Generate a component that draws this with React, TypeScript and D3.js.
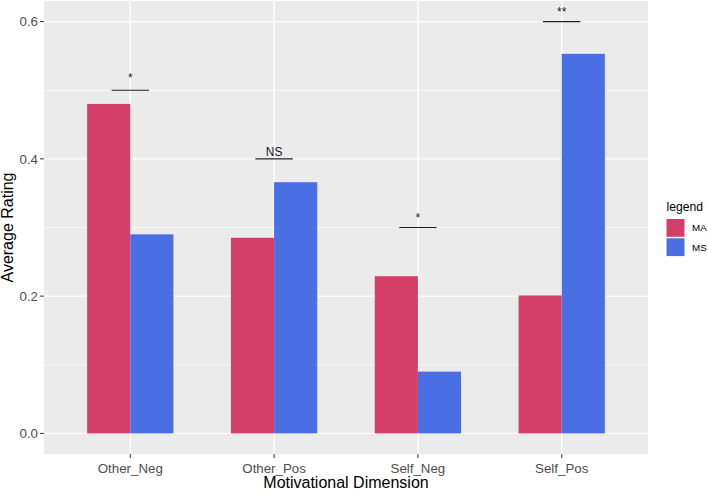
import React from "react";
import * as d3 from "d3";

const categories = ["Other_Neg", "Other_Pos", "Self_Neg", "Self_Pos"];
const groups = ["MA", "MS"];
const maValues = [0.48, 0.285, 0.229, 0.201];
const msValues = [0.29, 0.366, 0.09, 0.553];
const yTicks = [0.0, 0.2, 0.4, 0.6];
const yMinor = [0.1, 0.3, 0.5];
const sigLabels = ["*", "NS", "*", "**"];
const sigLineY = [0.5, 0.4, 0.3, 0.6];
const sigTextY = [0.512, 0.404, 0.308, 0.608];

const colors: Record<string, string> = { MA: "#D43F6A", MS: "#4A6FE3" };

const W = 708;
const H = 492;
const panel = { left: 44, right: 648, top: 1, bottom: 454 };

export default function App() {
  const x = d3
    .scaleLinear()
    .domain([0.4, 4.6])
    .range([panel.left, panel.right]);
  const y = d3
    .scaleLinear()
    .domain([-0.03, 0.63])
    .range([panel.bottom, panel.top]);
  const barW = 0.3;
  const font = "Arial, 'Liberation Sans', sans-serif";
  const series = [maValues, msValues];

  return (
    <svg
      width={W}
      height={H}
      style={{ position: "absolute", left: 0, top: 0, background: "#fff" }}
      fontFamily={font}
    >
      <rect
        x={panel.left}
        y={panel.top}
        width={panel.right - panel.left}
        height={panel.bottom - panel.top}
        fill="#EBEBEB"
      />
      {yMinor.map((v) => (
        <line key={"mn" + v} x1={panel.left} x2={panel.right} y1={y(v)} y2={y(v)} stroke="#fff" strokeWidth={0.7} />
      ))}
      {yTicks.map((v) => (
        <line key={"mj" + v} x1={panel.left} x2={panel.right} y1={y(v)} y2={y(v)} stroke="#fff" strokeWidth={1.4} />
      ))}
      {categories.map((c, i) => (
        <line key={"xg" + c} x1={x(i + 1)} x2={x(i + 1)} y1={panel.top} y2={panel.bottom} stroke="#fff" strokeWidth={1.4} />
      ))}
      {categories.map((c, i) =>
        series.map((vals, g) => {
          const x0 = i + 1 - barW + g * barW;
          return (
            <rect
              key={c + g}
              x={x(x0)}
              width={x(x0 + barW) - x(x0)}
              y={y(vals[i])}
              height={y(0) - y(vals[i])}
              fill={colors[groups[g]]}
            />
          );
        })
      )}
      {categories.map((c, i) => (
        <g key={"sig" + c}>
          <line
            x1={x(i + 1 - 0.13)}
            x2={x(i + 1 + 0.13)}
            y1={y(sigLineY[i])}
            y2={y(sigLineY[i])}
            stroke="#222"
            strokeWidth={1.1}
          />
          <text
            x={x(i + 1)}
            y={y(sigTextY[i])}
            textAnchor="middle"
            fontSize={12}
            fill="#1a1a1a"
          >
            {sigLabels[i]}
          </text>
        </g>
      ))}
      {yTicks.map((v) => (
        <g key={"yt" + v}>
          <line x1={panel.left - 4} x2={panel.left} y1={y(v)} y2={y(v)} stroke="#333" strokeWidth={1} />
          <text x={panel.left - 6} y={y(v)} dy="0.36em" textAnchor="end" fontSize={13.3} fill="#4D4D4D">
            {d3.format(".1f")(v)}
          </text>
        </g>
      ))}
      {categories.map((c, i) => (
        <g key={"xt" + c}>
          <line x1={x(i + 1)} x2={x(i + 1)} y1={panel.bottom} y2={panel.bottom + 4} stroke="#333" strokeWidth={1} />
          <text x={x(i + 1)} y={472.5} textAnchor="middle" fontSize={13.3} fill="#4D4D4D">
            {c}
          </text>
        </g>
      ))}
      <text x={(panel.left + panel.right) / 2} y={488} textAnchor="middle" fontSize={16} fill="#000">
        Motivational Dimension
      </text>
      <text
        transform={`translate(13, ${(panel.top + panel.bottom) / 2}) rotate(-90)`}
        textAnchor="middle"
        fontSize={16}
        fill="#000"
      >
        Average Rating
      </text>
      <text x={666.5} y={210.5} fontSize={12.2} fill="#000">legend</text>
      {groups.map((g, k) => (
        <g key={"lg" + g}>
          <rect x={666.5} y={219 + k * 19.3} width={18} height={17.8} fill={colors[g]} />
          <text x={692} y={219 + k * 19.3 + 8.9} dy="0.36em" fontSize={9.8} fill="#000">
            {g}
          </text>
        </g>
      ))}
    </svg>
  );
}
